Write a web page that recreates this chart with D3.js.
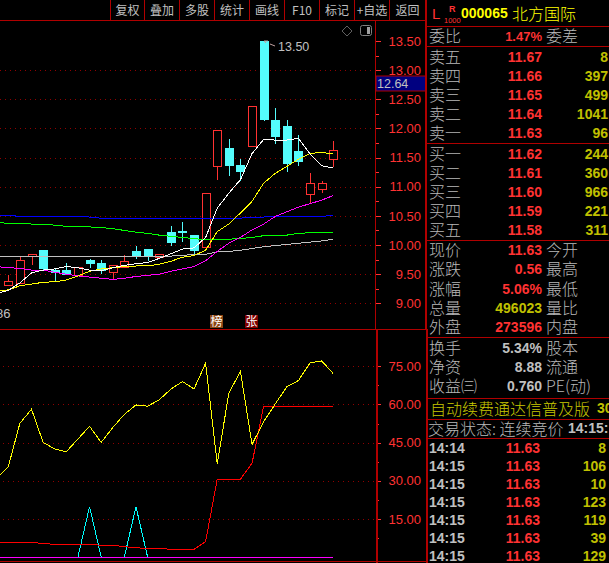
<!DOCTYPE html>
<html>
<head>
<meta charset="utf-8">
<script src="https://cdn.jsdelivr.net/npm/d3@7"></script>
<style>
  html, body { margin: 0; padding: 0; background: #000; overflow: hidden; }
  svg { display: block; }
  text { font-family: "Noto Sans CJK SC", sans-serif; }
  .num { font-family: "Liberation Sans", sans-serif; }
</style>
</head>
<body>
<svg id="chart" width="609" height="563"></svg>
<script>
// candles, first one is index 0
var opens  = [9.31, 9.34, 9.81, 9.90, 9.57, 9.56, 9.47, 9.73, 9.69, 9.53, 9.62, 9.89, 9.92, 9.78, 10.21, 10.24, 10.16, 9.95, 11.35, 11.65, 11.36, 11.69, 13.50, 12.14, 12.04, 11.61, 10.87, 10.96, 11.47];
var closes = [9.38, 9.74, 9.84, 9.60, 9.52, 9.49, 9.61, 9.68, 9.57, 9.64, 9.72, 9.80, 9.81, 9.84, 10.04, 10.21, 9.91, 10.89, 11.97, 11.36, 11.26, 12.38, 12.15, 11.86, 11.40, 11.44, 11.06, 11.06, 11.63];
var highs  = [9.49, 9.80, 9.84, 9.90, 9.58, 9.69, 9.61, 9.76, 9.75, 9.64, 9.83, 9.99, 9.92, 9.84, 10.33, 10.40, 10.16, 10.89, 11.97, 11.82, 11.48, 12.38, 13.50, 12.35, 12.15, 11.89, 11.24, 11.10, 11.79];
var lows   = [9.31, 9.34, 9.66, 9.57, 9.37, 9.49, 9.47, 9.60, 9.50, 9.41, 9.62, 9.76, 9.73, 9.78, 9.99, 10.06, 9.85, 9.95, 11.12, 11.19, 11.09, 11.69, 12.12, 11.73, 11.26, 11.36, 10.70, 10.90, 11.33];

// moving averages, these start one bar earlier (index -1)
var maWhite   = [9.17, 9.22, 9.35, 9.52, 9.57, 9.59, 9.63, 9.61, 9.57, 9.56, 9.61, 9.65, 9.68, 9.70, 9.77, 9.85, 9.93, 9.95, 10.13, 10.63, 10.89, 11.12, 11.57, 11.81, 11.80, 11.80, 11.83, 11.56, 11.36, 11.32];
var maYellow  = [9.21, 9.23, 9.30, 9.33, 9.36, 9.37, 9.40, 9.47, 9.55, 9.59, 9.61, 9.63, 9.64, 9.64, 9.67, 9.72, 9.79, 9.82, 9.91, 10.23, 10.36, 10.55, 10.75, 11.06, 11.23, 11.35, 11.47, 11.57, 11.59, 11.56];
var maMagenta = [9.63, 9.61, 9.60, 9.57, 9.57, 9.53, 9.50, 9.47, 9.45, 9.43, 9.41, 9.43, 9.46, 9.48, 9.50, 9.55, 9.59, 9.63, 9.73, 9.89, 10.03, 10.13, 10.26, 10.36, 10.49, 10.57, 10.65, 10.71, 10.77, 10.85];
var maGreen   = [10.39, 10.37, 10.37, 10.36, 10.36, 10.34, 10.32, 10.32, 10.31, 10.30, 10.28, 10.25, 10.22, 10.20, 10.17, 10.15, 10.13, 10.11, 10.09, 10.09, 10.10, 10.11, 10.13, 10.16, 10.17, 10.17, 10.20, 10.21, 10.21, 10.22];
var maBlue    = [10.51, 10.51, 10.49, 10.49, 10.49, 10.49, 10.49, 10.49, 10.48, 10.46, 10.46, 10.46, 10.46, 10.46, 10.46, 10.46, 10.46, 10.46, 10.46, 10.46, 10.46, 10.46, 10.48, 10.48, 10.49, 10.49, 10.49, 10.49, 10.49, 10.51];
var maGray    = [9.81, 9.81, 9.81, 9.81, 9.81, 9.81, 9.81, 9.81, 9.81, 9.81, 9.81, 9.81, 9.81, 9.81, 9.81, 9.81, 9.82, 9.84, 9.84, 9.88, 9.89, 9.91, 9.94, 9.97, 9.99, 10.01, 10.03, 10.05, 10.07, 10.10];

// lower indicator, also from index -1
var indYellow = [31.0, 35.5, 52.6, 58.1, 45.1, 42.5, 41.4, 46.4, 51.4, 45.1, 50.9, 56.1, 59.8, 59.3, 61.8, 66.0, 69.0, 66.1, 76.2, 36.7, 64.4, 73.0, 44.3, 53.2, 60.2, 67.0, 69.4, 76.4, 77.1, 72.1];
var indRed    = [5.8, 5.8, 5.8, 5.8, 5.3, 5.0, 5.0, 5.0, 5.0, 4.6, 4.6, 4.1, 3.6, 3.4, 3.4, 3.0, 3.0, 3.0, 6.1, 30.6, 30.6, 30.6, 36.9, 59.3, 59.3, 59.3, 59.3, 59.3, 59.3, 59.3];
var indCyan   = [null, null, null, null, null, null, null, 0, 19.8, 0, null, 0, 19.8, 0, null, null, null, null, null, null, null, null, null, null, null, null, null, null, null, null];
var indPurple = [0, 0, 0, 0, 0, 0, 0, 0, 0, 0, 0, 0, 0, 0, 0, 0, 0, 0, 0, 0, 0, 0, 0, 0, 0, 0, 0, 0, 0, 0];

var priceTicks = [9, 9.5, 10, 10.5, 11, 11.5, 12, 12.5, 13, 13.5];
var priceMinor = [9.25, 9.75, 10.25, 10.75, 11.25, 11.75, 12.25, 12.75, 13.25];
var indTicks = [15, 30, 45, 60, 75];
var indMinor = [7.5, 22.5, 37.5, 52.5, 67.5];

var toolbarLabels = ["复权", "叠加", "多股", "统计", "画线", "F10", "标记", "+自选", "返回"];

// quote panel
var askLabels = ["卖五", "卖四", "卖三", "卖二", "卖一"];
var askPrices = ["11.67", "11.66", "11.65", "11.64", "11.63"];
var askVols = ["8", "397", "499", "1041", "96"];
var bidLabels = ["买一", "买二", "买三", "买四", "买五"];
var bidPrices = ["11.62", "11.61", "11.60", "11.59", "11.58"];
var bidVols = ["244", "360", "966", "221", "311"];
var statLabels = ["现价", "涨跌", "涨幅", "总量", "外盘"];
var statValues = ["11.63", "0.56", "5.06%", "496023", "273596"];
var statRight = ["今开", "最高", "最低", "量比", "内盘"];
var statColors = ["#ff3232", "#ff3232", "#ff3232", "#c0c000", "#ff3232"];
var infoLabels = ["换手", "净资", "收益㈢"];
var infoValues = ["5.34%", "8.88", "0.760"];
var infoRight = ["股本", "流通", "PE(动)"];
var tradeTimes = ["14:14", "14:15", "14:15", "14:15", "14:15", "14:15", "14:15"];
var tradePrices = ["11.63", "11.63", "11.63", "11.63", "11.63", "11.63", "11.63"];
var tradeVols = ["8", "106", "10", "123", "119", "39", "129"];

var RED = "#ff3232", LINE = "#b00000", GRAY = "#c0c0c0", OLIVE = "#c0c000", CYAN = "#54fcfc";

var svg = d3.select("#chart");
svg.append("rect").attr("width", 609).attr("height", 563).attr("fill", "#000");

var x = d3.scaleLinear().domain([0, 28]).range([8.3, 333.3]);
var y = d3.scaleLinear().domain([9, 13.5]).range([303.3, 41]);
var yInd = d3.scaleLinear().domain([0, 75]).range([557, 366.3]);

// grid
function grid(values, scale, x0) {
  svg.append("g").selectAll("line").data(values).join("line")
    .attr("x1", x0).attr("x2", 375)
    .attr("y1", function (d) { return Math.round(scale(d)) + 0.5; })
    .attr("y2", function (d) { return Math.round(scale(d)) + 0.5; })
    .attr("stroke", "#900000")
    .attr("stroke-dasharray", "1 4");
}
grid(priceTicks.filter(function (d) { return d < 13.5; }), y, 0);
grid(indTicks, yInd, 3);

// candles
var candles = opens.map(function (o, i) {
  return { i: i, o: o, c: closes[i], h: highs[i], l: lows[i] };
});
var candle = svg.append("g").attr("shape-rendering", "crispEdges")
  .selectAll("g").data(candles).join("g");
candle.append("line")
  .attr("x1", function (d) { return Math.round(x(d.i)) + 0.5; })
  .attr("x2", function (d) { return Math.round(x(d.i)) + 0.5; })
  .attr("y1", function (d) { return y(d.h); })
  .attr("y2", function (d) { return y(d.l); })
  .attr("stroke", function (d) { return d.c > d.o ? RED : CYAN; });
candle.append("rect")
  .attr("x", function (d) { return Math.round(x(d.i)) - 3.5; })
  .attr("width", 8)
  .attr("y", function (d) { return y(Math.max(d.o, d.c)); })
  .attr("height", function (d) { return Math.abs(y(d.o) - y(d.c)); })
  .attr("fill", function (d) { return d.c > d.o ? "#000" : CYAN; })
  .attr("stroke", function (d) { return d.c > d.o ? RED : CYAN; });

// lines start at index -1
function drawLine(values, scale, color, width) {
  var line = d3.line()
    .defined(function (d) { return d !== null; })
    .x(function (d, i) { return x(i - 1); })
    .y(function (d) { return scale(d); });
  svg.append("path").datum(values)
    .attr("d", line)
    .attr("fill", "none")
    .attr("stroke", color)
    .attr("stroke-width", width || 1)
    .attr("shape-rendering", "crispEdges");
}
drawLine(maGray, y, "#c0c0c0");
drawLine(maBlue, y, "#0000ff");
drawLine(maGreen, y, "#00ff00");
drawLine(maMagenta, y, "#ff00ff");
drawLine(maYellow, y, "#ffff00");
drawLine(maWhite, y, "#ffffff");

drawLine(indCyan, yInd, "#00ffff");
drawLine(indPurple, yInd, "#ff00ff");
drawLine(indRed, yInd, "#ff0000");
drawLine(indYellow, yInd, "#ffff00");

// high marker
svg.append("path").attr("d", "M266 43 L264 41 L268 41 M270 44 L275 46")
  .attr("fill", "none").attr("stroke", "#c0a0a0");
svg.append("text").attr("class", "num").attr("x", 278).attr("y", 51)
  .attr("font-size", 12.5).attr("fill", GRAY).text("13.50");

// corner icons
svg.append("path").attr("d", "M347 26 L352 31 L347 36 L342 31 Z").attr("fill", "none").attr("stroke", "#606060");
svg.append("rect").attr("x", 360.5).attr("y", 25.5).attr("width", 11).attr("height", 10).attr("rx", 2)
  .attr("fill", "none").attr("stroke", "#808080");
svg.append("rect").attr("x", 367).attr("y", 27).attr("width", 3).attr("height", 7).attr("fill", "#a0a0a0");

// date stub and badges
svg.append("text").attr("class", "num").attr("x", -4).attr("y", 318)
  .attr("font-size", 13).attr("fill", GRAY).text("86");
function badge(bx, color, label) {
  svg.append("rect").attr("x", bx).attr("y", 315).attr("width", 13).attr("height", 13).attr("fill", color);
  svg.append("text").attr("x", bx + 6.5).attr("y", 326).attr("text-anchor", "middle")
    .attr("font-size", 12).attr("fill", "#fff").text(label);
}
badge(210, "#8b4513", "榜");
badge(245, "#800000", "张");

// axes
function axis(scale, ticks, minor) {
  var g = svg.append("g").attr("transform", "translate(376,0)");
  g.call(d3.axisRight(scale).tickValues(ticks).tickSize(5).tickFormat(d3.format(".2f")));
  g.select(".domain").remove();
  g.selectAll("line").attr("stroke", RED).attr("shape-rendering", "crispEdges");
  g.selectAll("text").attr("class", "num").attr("x", 45).attr("text-anchor", "end")
    .attr("fill", RED).attr("font-size", 13).attr("font-family", "Liberation Sans");
  var m = svg.append("g").attr("transform", "translate(376,0)");
  m.call(d3.axisRight(scale).tickValues(minor).tickSize(3).tickFormat(""));
  m.select(".domain").remove();
  m.selectAll("line").attr("stroke", RED).attr("shape-rendering", "crispEdges");
}
axis(y, priceTicks, priceMinor);
axis(yInd, indTicks, indMinor);

// current price box
svg.append("rect").attr("x", 376).attr("y", 76).attr("width", 50).attr("height", 15)
  .attr("fill", "#000080").attr("stroke", LINE);
svg.append("text").attr("class", "num").attr("x", 377).attr("y", 88)
  .attr("font-size", 12.5).attr("fill", GRAY).text("12.64");

// frame
function hline(x1, x2, yy, w) {
  svg.append("line").attr("x1", x1).attr("x2", x2).attr("y1", yy).attr("y2", yy)
    .attr("stroke", LINE).attr("stroke-width", w || 1).attr("shape-rendering", "crispEdges");
}
function vline(xx, y1, y2, w) {
  svg.append("line").attr("x1", xx).attr("x2", xx).attr("y1", y1).attr("y2", y2)
    .attr("stroke", LINE).attr("stroke-width", w || 1).attr("shape-rendering", "crispEdges");
}
hline(0, 426, 20.5);
hline(0, 426, 329.5);
hline(0, 426, 561.5);
vline(375.5, 20, 329);
vline(377, 329, 563, 2);
vline(426, 0, 329, 2);
vline(427, 329, 563, 2);

// toolbar
var toolbarEdges = [110, 144, 179, 214, 249, 284, 319, 354, 389, 425];
toolbarEdges.forEach(function (e) { vline(e + 0.5, 0, 20); });
svg.append("g").selectAll("text").data(toolbarLabels).join("text")
  .attr("x", function (d, i) { return (toolbarEdges[i] + toolbarEdges[i + 1]) / 2 + 0.5; })
  .attr("y", 15).attr("text-anchor", "middle").attr("font-size", 12)
  .attr("fill", GRAY).text(function (d) { return d; });

// quote panel helpers
function label(tx, ty, s, color, size) {
  svg.append("text").attr("x", tx).attr("y", ty).attr("font-size", size || 16)
    .attr("font-weight", 300).attr("fill", color || "#b8b8b8").text(s);
}
function num(tx, ty, s, color, size) {
  svg.append("text").attr("class", "num").attr("x", tx).attr("y", ty).attr("text-anchor", "end")
    .attr("font-size", size || 14).attr("font-weight", "bold").attr("fill", color).text(s);
}
[26.5, 46.5, 143.5, 240.5, 337.5, 398.5, 419.5, 438.5].forEach(function (yy) { hline(427, 609, yy); });

// header
svg.append("text").attr("class", "num").attr("x", 432).attr("y", 19).attr("font-size", 15).attr("fill", RED).text("L");
svg.append("text").attr("class", "num").attr("x", 449).attr("y", 12).attr("font-size", 9).attr("font-weight", "bold").attr("fill", RED).text("R");
svg.append("text").attr("class", "num").attr("x", 444).attr("y", 23).attr("font-size", 7.5).attr("fill", RED).text("1000");
svg.append("text").attr("class", "num").attr("x", 461).attr("y", 18).attr("font-size", 14).attr("font-weight", "bold").attr("fill", "#ffff00").text("000065");
label(512, 20, "北方国际", "#ffff00");

label(429, 42, "委比");
num(542, 41, "1.47%", RED, 13);
label(546, 42, "委差");

function rows(labels, prices, vols, startY) {
  labels.forEach(function (s, i) {
    var ry = startY + i * 19;
    label(429, ry + 6, s);
    num(542, ry + 5, prices[i], RED);
    num(608, ry + 5, vols[i], OLIVE);
  });
}
rows(askLabels, askPrices, askVols, 57);
rows(bidLabels, bidPrices, bidVols, 154);

statLabels.forEach(function (s, i) {
  var ry = 250 + i * 19.3;
  label(429, ry + 6, s);
  num(542, ry + 5, statValues[i], statColors[i]);
  label(546, ry + 6, statRight[i]);
});
infoLabels.forEach(function (s, i) {
  var ry = 348 + i * 19;
  label(429, ry + 6, s);
  num(542, ry + 5, infoValues[i], GRAY);
  label(546, ry + 6, infoRight[i]);
});

label(430, 415, "自动续费通达信普及版", "#c8c800");
svg.append("text").attr("class", "num").attr("x", 597).attr("y", 413).attr("font-size", 14).attr("font-weight", "bold").attr("fill", OLIVE).text("30");
label(428, 435, "交易状态: 连续竞价");
svg.append("text").attr("class", "num").attr("x", 568).attr("y", 433).attr("font-size", 14).attr("font-weight", "bold").attr("fill", GRAY).text("14:15:");

tradeTimes.forEach(function (t, i) {
  var ry = 447.7 + i * 18;
  svg.append("text").attr("class", "num").attr("x", 429).attr("y", ry + 5).attr("font-size", 14)
    .attr("font-weight", "bold").attr("fill", GRAY).text(t);
  num(540, ry + 5, tradePrices[i], RED);
  num(606, ry + 5, tradeVols[i], OLIVE);
});
</script>
</body>
</html>
